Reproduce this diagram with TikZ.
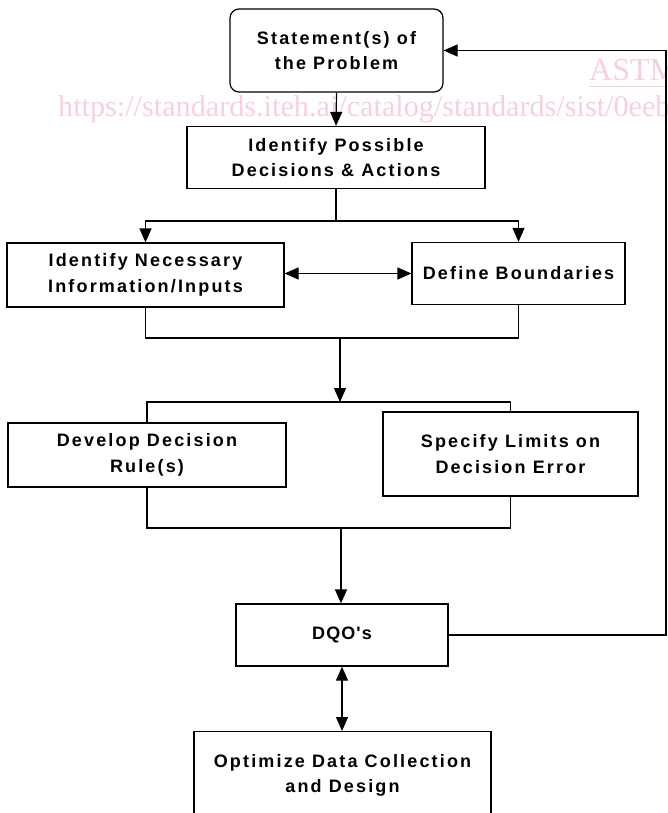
\documentclass[tikz,border=0pt]{standalone}
\usepackage{fontspec}
\usetikzlibrary{arrows.meta,calc}
\newfontfamily\boxfont[LetterSpace=12]{Liberation Sans}
\newfontfamily\dqofont[LetterSpace=6]{Liberation Sans}
\newfontfamily\wmfont{Liberation Serif}
\definecolor{wmpink}{RGB}{248,208,220}
\newcommand\boxtxt{\boxfont\bfseries\fontsize{18}{25.5}\selectfont}
\newcommand\dqotxt{\dqofont\bfseries\fontsize{18}{25.5}\selectfont}
\begin{document}
\begin{tikzpicture}[x=1pt,y=-1pt,
  box/.style={draw, line width=1.2pt, align=center, inner sep=0pt, font=\boxtxt},
  txt/.style={align=center, inner sep=0pt, font=\boxtxt},
  conn/.style={line width=1.2pt},
  arr/.style={conn, -{Triangle[length=14pt,width=12pt]}},
  darr/.style={conn, {Triangle[length=14pt,width=12pt]}-{Triangle[length=14pt,width=12pt]}},
  wm/.style={anchor=base west, inner sep=0pt, text=wmpink}
]
\useasboundingbox (0,0) rectangle (668,813);
\clip (0,0) rectangle (668,813);

% watermark
\node[wm, font=\wmfont\fontsize{30.2}{30}\selectfont] (url) at (58,117) {https://standards.iteh.ai/catalog/standards/sist/0eebc};
\node[wm, font=\wmfont\fontsize{32}{32}\selectfont] (astm) at (589,81) {ASTM};
\draw[wmpink, line width=0.8pt] ($(astm.base west)+(0,5)$) -- ($(astm.base east)+(0,5)$);

% boxes
\node[box, rounded corners=9pt, minimum width=213pt, minimum height=83pt] (stmt) at (336.5,50.5) {Statement(s) of\\the Problem};
\node[box, minimum width=298pt, minimum height=62pt] (poss) at (336,157.5) {Identify Possible\\Decisions \& Actions};
\node[box, minimum width=277pt, minimum height=64pt] (need) at (145.5,275) {Identify Necessary\\Information/Inputs};
\node[box, minimum width=213pt, minimum height=62pt] (bound) at (518.5,273.5) {Define Boundaries};
\node[box, minimum width=278pt, minimum height=64pt] (dev) at (147,455) {Develop Decision\\Rule(s)};
\node[box, minimum width=255pt, minimum height=84pt] (spec) at (510.5,454) {Specify Limits on\\Decision Error};
\node[box, font=\dqotxt, minimum width=212pt, minimum height=62pt] (dqo) at (342,635) {DQO's};
\node[box, minimum width=297pt, minimum height=110pt, anchor=north] (opt) at (342.5,731) {};
\node[txt] (optt) at (342.5,775.5) {Optimize Data Collection\\and Design};

% connectors
\draw[arr] (stmt.south) -- (poss.north);
\coordinate (j1) at (336,221);
\draw[conn] (poss.south) -- (j1);
\draw[arr] (j1) -| (need.north);
\draw[arr] (j1) -| (bound.north);
\draw[darr] (need.east |- bound.west) -- (bound.west);
\coordinate (m1) at (340,338);
\draw[conn] (need.south) |- (m1) -| (bound.south);
\coordinate (s1) at (340,402);
\draw[arr] (m1) -- (s1);
\draw[conn] (dev.north) |- (s1) -| (spec.north);
\coordinate (m2) at (341,528);
\draw[conn] (dev.south) |- (m2) -| (spec.south);
\draw[arr] (m2) -- (m2 |- dqo.north);
\coordinate (fb) at (666,50.5);
\draw[arr] (dqo.east) -| (fb) -- (stmt.east);
\draw[darr] (dqo.south) -- (dqo.south |- opt.north);
\end{tikzpicture}
\end{document}
